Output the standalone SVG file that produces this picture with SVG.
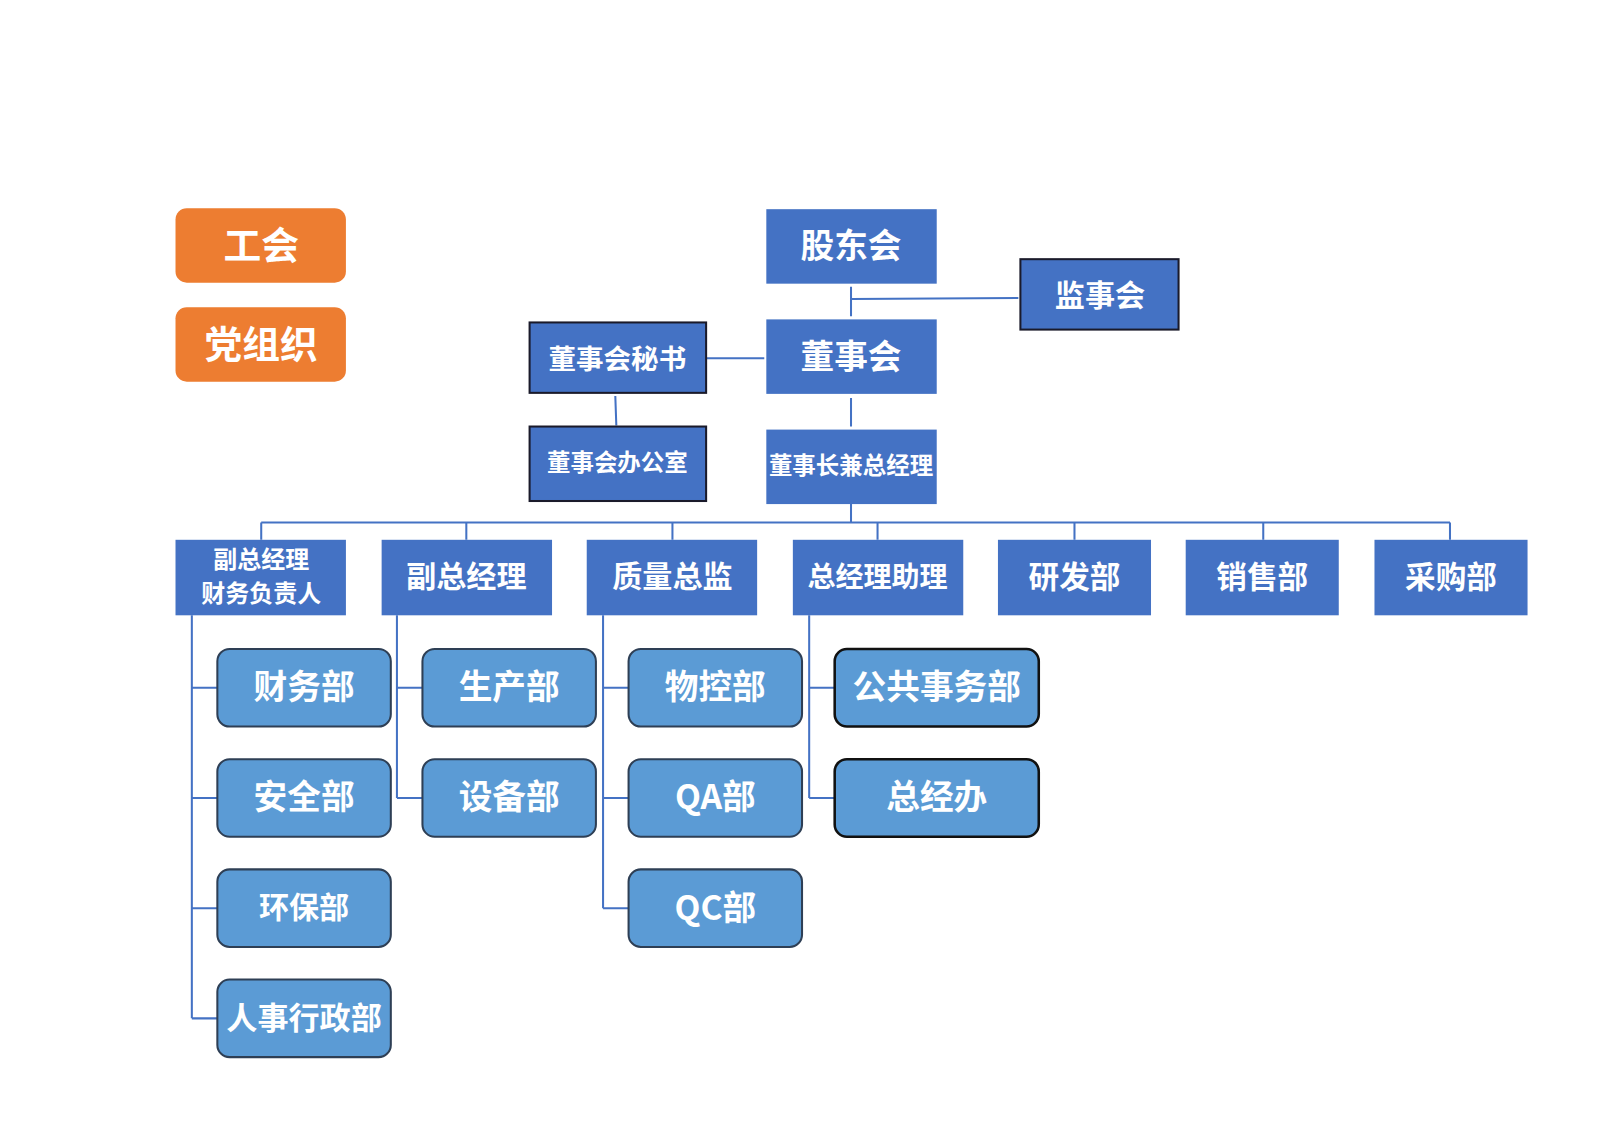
<svg xmlns="http://www.w3.org/2000/svg" width="1600" height="1131" viewBox="0 0 1600 1131">
<style>
text{font-family:"Noto Sans CJK SC","Noto Sans",sans-serif;fill:#fff;text-anchor:middle;dominant-baseline:central;font-weight:bold}
.org{fill:#ED7D31}
.top{fill:#4472C4}
.topb{fill:#4472C4;stroke:#1a1a2a;stroke-width:2}
.dept{fill:#5B9BD5;stroke:#2E3F55;stroke-width:2}
.deptb{fill:#5B9BD5;stroke:#111;stroke-width:2.5}
.ln{stroke:#4472C4;stroke-width:2;fill:none}
</style>
<rect width="1600" height="1131" fill="#fff"/>
<g transform="scale(1.0204)">
<g id="connectors">
<path class="ln" d="M834 281V310M834 293L998 292M692 351H749M603 388L604 417M834 390V418M834 494V512M256 512H1421M256 512V529M457 512V529M659 512V529M860 512V529M1053 512V529M1238 512V529M1421 512V529"/>
<path class="ln" d="M188 603V998M188 674H213M188 782H213M188 890H213M188 998H213"/>
<path class="ln" d="M389 603V782M389 674H414M389 782H414"/>
<path class="ln" d="M591 603V890M591 674H616M591 782H616M591 890H616"/>
<path class="ln" d="M793 603V782M793 674H818M793 782H818"/>
</g>
<g id="n-gonghui"><rect class="org" x="172" y="204" width="167" height="73" rx="11"/><text x="256" y="238" font-size="37">工会</text></g>
<g id="n-dangzuzhi"><rect class="org" x="172" y="301" width="167" height="73" rx="11"/><text x="256" y="335" font-size="37">党组织</text></g>
<g id="n-gudonghui"><rect class="top" x="751" y="205" width="167" height="73"/><text x="834" y="239" font-size="33">股东会</text></g>
<g id="n-jianshihui"><rect class="topb" x="1000" y="254" width="155" height="69"/><text x="1078" y="287" font-size="29.5">监事会</text></g>
<g id="n-dongshihui"><rect class="top" x="751" y="313" width="167" height="73"/><text x="834" y="347" font-size="33">董事会</text></g>
<g id="n-mishu"><rect class="topb" x="519" y="316" width="173" height="69"/><text x="605" y="350" font-size="27">董事会秘书</text></g>
<g id="n-bangongshi"><rect class="topb" x="519" y="418" width="173" height="73"/><text x="605" y="452" font-size="23">董事会办公室</text></g>
<g id="n-zongjingli"><rect class="top" x="751" y="421" width="167" height="73"/><text x="834" y="455" font-size="23">董事长兼总经理</text></g>
<g id="n-fuzong-cw"><rect class="top" x="172" y="529" width="167" height="74"/><text x="256" y="546" font-size="23.5">副总经理</text><text x="256" y="580" font-size="23.5">财务负责人</text></g>
<g id="n-fuzong"><rect class="top" x="374" y="529" width="167" height="74"/><text x="457" y="563" font-size="29.5">副总经理</text></g>
<g id="n-zhiliang"><rect class="top" x="575" y="529" width="167" height="74"/><text x="659" y="563" font-size="29.5">质量总监</text></g>
<g id="n-zhuli"><rect class="top" x="777" y="529" width="167" height="74"/><text x="860" y="563" font-size="27.5">总经理助理</text></g>
<g id="n-yanfa"><rect class="top" x="978" y="529" width="150" height="74"/><text x="1053" y="563" font-size="30">研发部</text></g>
<g id="n-xiaoshou"><rect class="top" x="1162" y="529" width="150" height="74"/><text x="1237" y="563" font-size="30">销售部</text></g>
<g id="n-caigou"><rect class="top" x="1347" y="529" width="150" height="74"/><text x="1422" y="563" font-size="30">采购部</text></g>
<g id="n-caiwu"><rect class="dept" x="213" y="636" width="170" height="76" rx="12"/><text x="298" y="671" font-size="33">财务部</text></g>
<g id="n-anquan"><rect class="dept" x="213" y="744" width="170" height="76" rx="12"/><text x="298" y="779" font-size="33">安全部</text></g>
<g id="n-huanbao"><rect class="dept" x="213" y="852" width="170" height="76" rx="12"/><text x="298" y="887" font-size="29.5">环保部</text></g>
<g id="n-renshi"><rect class="dept" x="213" y="960" width="170" height="76" rx="12"/><text x="298" y="995" font-size="30.5">人事行政部</text></g>
<g id="n-shengchan"><rect class="dept" x="414" y="636" width="170" height="76" rx="12"/><text x="499" y="671" font-size="33">生产部</text></g>
<g id="n-shebei"><rect class="dept" x="414" y="744" width="170" height="76" rx="12"/><text x="499" y="779" font-size="33">设备部</text></g>
<g id="n-wukong"><rect class="dept" x="616" y="636" width="170" height="76" rx="12"/><text x="701" y="671" font-size="33">物控部</text></g>
<g id="n-qa"><rect class="dept" x="616" y="744" width="170" height="76" rx="12"/><text x="701" y="779" font-size="33">QA部</text></g>
<g id="n-qc"><rect class="dept" x="616" y="852" width="170" height="76" rx="12"/><text x="701" y="887" font-size="33">QC部</text></g>
<g id="n-gonggong"><rect class="deptb" x="818" y="636" width="200" height="76" rx="12"/><text x="918" y="671" font-size="33">公共事务部</text></g>
<g id="n-zongjingban"><rect class="deptb" x="818" y="744" width="200" height="76" rx="12"/><text x="918" y="779" font-size="33">总经办</text></g>
</g>
</svg>
